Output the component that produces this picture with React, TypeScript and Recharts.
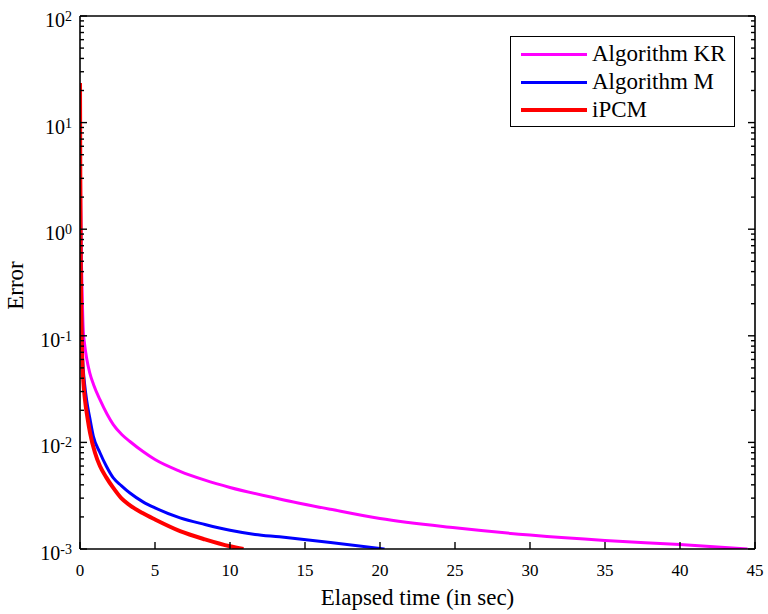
import React from 'react';
import { LineChart, Line, XAxis, YAxis, Legend } from 'recharts';

const FONT = 'Liberation Serif, Tinos, Times New Roman, Times, DejaVu Serif, Noto Serif, serif';

// Algorithm KR
const krX = [0, 0.02, 0.05, 0.08, 0.11, 0.16, 0.22, 0.3, 0.44, 0.65, 0.9, 1.33, 1.8, 2.22, 2.8, 3.33, 4.2, 5, 6.67, 8.33, 10, 13.3, 16.7, 20, 25, 30, 35, 40, 44.5];
const krY = [23.5, 6, 1.5, 0.6, 0.4, 0.2, 0.11, 0.085, 0.062, 0.045, 0.035, 0.0252, 0.0185, 0.0147, 0.0118, 0.0102, 0.0082, 0.0069, 0.00536, 0.00443, 0.00378, 0.00295, 0.00236, 0.00193, 0.00158, 0.00135, 0.0012, 0.0011, 0.001];

// Algorithm M
const mX = [0, 0.02, 0.05, 0.09, 0.15, 0.22, 0.3, 0.44, 0.65, 0.89, 1.33, 1.75, 2.22, 2.75, 3.33, 4.2, 5, 6.67, 8.33, 10, 11.67, 13.3, 16.7, 20.3];
const mY = [23.5, 4, 0.7, 0.22, 0.076, 0.048, 0.036, 0.025, 0.017, 0.0114, 0.008, 0.006, 0.00464, 0.00394, 0.00335, 0.00277, 0.00243, 0.00196, 0.0017, 0.0015, 0.00137, 0.0013, 0.00115, 0.001];

// iPCM
const pX = [0, 0.02, 0.05, 0.09, 0.15, 0.22, 0.33, 0.5, 0.67, 1, 1.33, 1.75, 2.22, 2.75, 3.33, 4.2, 5, 6.67, 8.33, 10, 10.9];
const pY = [23.5, 3, 0.5, 0.15, 0.06, 0.038, 0.0252, 0.017, 0.0123, 0.008, 0.006, 0.0047, 0.00374, 0.003, 0.00257, 0.00216, 0.00189, 0.00147, 0.00123, 0.00106, 0.001];

const seriesNames = ['Algorithm KR', 'Algorithm M', 'iPCM'];
const seriesColors = ['#ff00ff', '#0000ff', '#ff0000'];
const seriesWidths = [3, 3, 4];

const xTicks = [0, 5, 10, 15, 20, 25, 30, 35, 40, 45];
const yDecades = [-3, -2, -1, 0, 1, 2];
const yTicks: number[] = [];
yDecades.forEach((e) => {
  yTicks.push(Math.pow(10, e));
  if (e < 2) for (let m = 2; m <= 9; m++) yTicks.push(m * Math.pow(10, e));
});

const zip = (xs: number[], ys: number[]) => xs.map((x, i) => ({ x, y: ys[i] }));
const seriesData = [zip(krX, krY), zip(mX, mY), zip(pX, pY)];

const isMajor = (v: number) => {
  const e = Math.log10(v);
  return Math.abs(e - Math.round(e)) < 1e-6;
};

const LeftTick = (props: any) => {
  const { x, y, payload } = props;
  const v = payload.value;
  const major = isMajor(v);
  const e = Math.round(Math.log10(v));
  return (
    <g>
      <line x1={x} x2={x + (major ? 7 : 4)} y1={y} y2={y} stroke="#000" strokeWidth={1.4} />
      {major && (
        <text x={x - 8} y={y + 11} textAnchor="end" fontSize={20} style={{ fontFamily: FONT }} fill="#000">
          10<tspan dy={-6} fontSize={14}>{e}</tspan>
        </text>
      )}
    </g>
  );
};

const RightTick = (props: any) => {
  const { x, y, payload } = props;
  const major = isMajor(payload.value);
  return <line x1={x} x2={x - (major ? 7 : 4)} y1={y} y2={y} stroke="#000" strokeWidth={1.4} />;
};

const BottomTick = (props: any) => {
  const { x, y, payload } = props;
  return (
    <g>
      <line x1={x} x2={x} y1={y} y2={y - 7} stroke="#000" strokeWidth={1.4} />
      <text x={x} y={y + 27} textAnchor="middle" fontSize={17} style={{ fontFamily: FONT }} fill="#000">
        {payload.value}
      </text>
    </g>
  );
};

const TopTick = (props: any) => {
  const { x, y } = props;
  return <line x1={x} x2={x} y1={y} y2={y + 7} stroke="#000" strokeWidth={1.4} />;
};

const YLabel = (props: any) => {
  const vb = props.viewBox || { x: 0, y: 16, width: 80, height: 533 };
  const cx = vb.x + 23;
  const cy = vb.y + vb.height / 2 + 3;
  return (
    <text x={cx} y={cy} transform={`rotate(-90, ${cx}, ${cy})`} textAnchor="middle" fontSize={23} style={{ fontFamily: FONT }} fill="#000">
      Error
    </text>
  );
};

const XLabel = (props: any) => {
  const vb = props.viewBox || { x: 80, y: 549, width: 675, height: 65 };
  return (
    <text x={vb.x + vb.width / 2} y={vb.y + 56} textAnchor="middle" fontSize={23} style={{ fontFamily: FONT }} fill="#000">
      Elapsed time (in sec)
    </text>
  );
};

const LegendBox = (props: any) => {
  const payload = props.payload || [];
  return (
    <div
      style={{
        position: 'relative',
        width: 225,
        height: 91,
        boxSizing: 'border-box',
        border: '1.3px solid #000',
        background: '#fff',
        fontFamily: FONT,
      }}
    >
      {payload.map((p: any, i: number) => (
        <div
          key={i}
          style={{
            position: 'absolute',
            left: 10,
            top: 3 + i * 28,
            height: 28,
            display: 'flex',
            alignItems: 'center',
            whiteSpace: 'nowrap',
          }}
        >
          <div style={{ width: 66, height: seriesWidths[i], background: p.color }} />
          <span style={{ marginLeft: 5, fontSize: 23, lineHeight: '28px', color: '#000' }}>{p.value}</span>
        </div>
      ))}
    </div>
  );
};

export default function App() {
  return (
    <div style={{ position: 'absolute', left: 0, top: 0, width: 768, height: 614, background: '#fff', fontFamily: FONT }}>
      <LineChart width={768} height={614} margin={{ top: 15, right: 12, bottom: 0, left: 0 }}>
        <XAxis
          xAxisId="bottom"
          dataKey="x"
          type="number"
          domain={[0, 45]}
          ticks={xTicks}
          interval={0}
          height={65}
          tickSize={0}
          tickMargin={0}
          tick={<BottomTick />}
          axisLine={{ stroke: '#000', strokeWidth: 1.6 }}
          allowDataOverflow
          label={<XLabel />}
        />
        <XAxis
          xAxisId="top"
          orientation="top"
          type="number"
          domain={[0, 45]}
          ticks={xTicks}
          interval={0}
          height={1}
          tickSize={0}
          tickMargin={0}
          tick={<TopTick />}
          axisLine={{ stroke: '#000', strokeWidth: 1.6 }}
          allowDataOverflow
        />
        <YAxis
          yAxisId="left"
          type="number"
          scale="log"
          domain={[0.001, 100]}
          ticks={yTicks}
          interval={0}
          width={80}
          tickSize={0}
          tickMargin={0}
          tick={<LeftTick />}
          axisLine={{ stroke: '#000', strokeWidth: 1.6 }}
          allowDataOverflow
          label={<YLabel />}
        />
        <YAxis
          yAxisId="right"
          orientation="right"
          type="number"
          scale="log"
          domain={[0.001, 100]}
          ticks={yTicks}
          interval={0}
          width={1}
          tickSize={0}
          tickMargin={0}
          tick={<RightTick />}
          axisLine={{ stroke: '#000', strokeWidth: 1.6 }}
          allowDataOverflow
        />
        {seriesData.map((d, i) => (
          <Line
            key={seriesNames[i]}
            data={d}
            dataKey="y"
            name={seriesNames[i]}
            xAxisId="bottom"
            yAxisId="left"
            type="monotone"
            stroke={seriesColors[i]}
            strokeWidth={seriesWidths[i]}
            dot={false}
            activeDot={false}
            isAnimationActive={false}
          />
        ))}
        <Legend
          layout="vertical"
          align="center"
          verticalAlign="middle"
          content={<LegendBox />}
          wrapperStyle={{ left: 510, top: 36, width: 225, height: 91 }}
        />
      </LineChart>
    </div>
  );
}
